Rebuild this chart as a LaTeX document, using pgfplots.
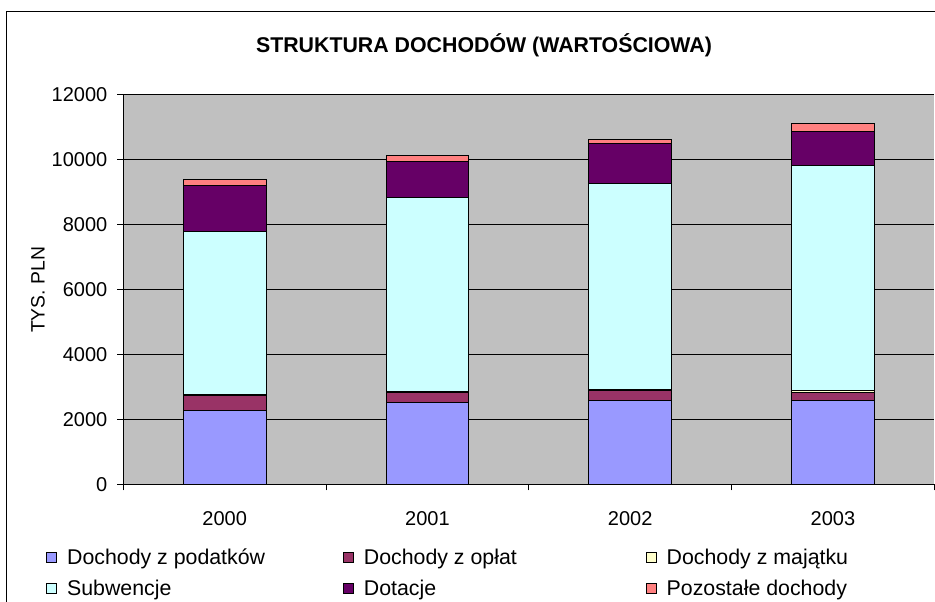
\documentclass[border=0pt]{standalone}
\usepackage{pgfplots}
\pgfplotsset{compat=1.18}
\usepackage{fontspec}
\setmainfont{Liberation Sans}
\definecolor{cpod}{HTML}{9999FF}
\definecolor{copl}{HTML}{993366}
\definecolor{cmaj}{HTML}{FFFFCC}
\definecolor{csub}{HTML}{CCFFFF}
\definecolor{cdot}{HTML}{660066}
\definecolor{cpoz}{HTML}{FF8080}
\definecolor{bgc}{HTML}{C0C0C0}
\begin{document}
\begin{tikzpicture}
\useasboundingbox (0,0) rectangle (701.25pt,450.75pt);
\draw[line width=0.75pt] (4.5pt,-3pt) -- (4.5pt,441.75pt) -- (706pt,441.75pt);
\node[font=\bfseries\fontsize{16}{19}\selectfont] at (363pt,417pt) {STRUKTURA DOCHODÓW (WARTOŚCIOWA)};
\node[rotate=90,font=\fontsize{14.5}{17}\selectfont] at (28.5pt,233.25pt) {TYS. PLN};
\begin{axis}[
  at={(92.5pt,87.5pt)}, anchor=south west,
  scale only axis, width=608.25pt, height=292.5pt,
  ybar stacked, bar width=62pt,
  xmin=-0.5, xmax=3.5, ymin=0, ymax=12000,
  xtick={-0.5,0.5,1.5,2.5,3.5},
  x tick label as interval,
  xticklabels={2000,2001,2002,2003},
  ytick={0,2000,4000,6000,8000,10000,12000},
  scaled ticks=false,
  /pgf/number format/1000 sep={},
  /pgf/number format/assume math mode=true,
  ticklabel style={font=\fontsize{15}{18}\selectfont},
  yticklabel style={xshift=-4pt},
  xticklabel style={yshift=-12.5pt},
  ymajorgrids, grid style={black, line width=0.75pt},
  axis background/.style={fill=bgc},
  axis x line*=bottom, axis y line*=left,
  axis line style={black, line width=0.75pt, -},
  tick style={black, line width=0.75pt},
  tick align=outside, major tick length=4.5pt,
  legend image code/.code={\draw[#1, draw=black, line width=0.6pt] (0pt,-3.75pt) rectangle (7.5pt,3.75pt);},
  legend columns=3,
  legend cell align=left,
  legend style={at={(-0.0953,-0.165)}, anchor=north west, draw=none, fill=none,
    font=\fontsize{16}{19}\selectfont, inner sep=0pt, row sep=10pt,
    nodes={inner sep=0pt},
    /tikz/every odd column/.append style={column sep=7.5pt}},
]
\addplot[fill=cpod, draw=black, line width=0.6pt] coordinates {(0,2270) (1,2520) (2,2580) (3,2580)};
\addlegendentry{\makebox[207pt][l]{Dochody z podatków}}
\addplot[fill=copl, draw=black, line width=0.6pt] coordinates {(0,455) (1,320) (2,320) (3,260)};
\addlegendentry{\makebox[211.5pt][l]{Dochody z opłat}}
\addplot[fill=cmaj, draw=black, line width=0.6pt] coordinates {(0,50) (1,10) (2,10) (3,60)};
\addlegendentry{Dochody z majątku}
\addplot[fill=csub, draw=black, line width=0.6pt] coordinates {(0,5000) (1,5977) (2,6350) (3,6915)};
\addlegendentry{\makebox[207pt][l]{Subwencje}}
\addplot[fill=cdot, draw=black, line width=0.6pt] coordinates {(0,1420) (1,1110) (2,1235) (3,1050)};
\addlegendentry{\makebox[211.5pt][l]{Dotacje}}
\addplot[fill=cpoz, draw=black, line width=0.6pt] coordinates {(0,185) (1,185) (2,130) (3,245)};
\addlegendentry{Pozostałe dochody}
\end{axis}
\end{tikzpicture}
\end{document}
